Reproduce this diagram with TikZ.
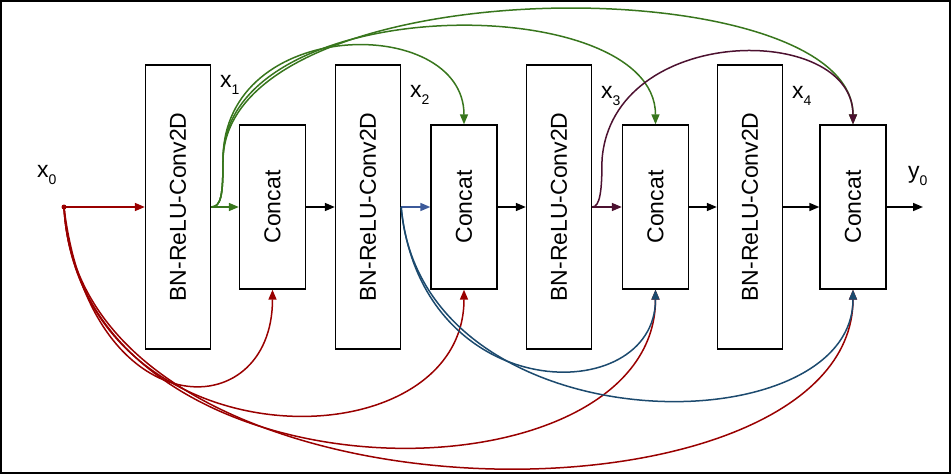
\documentclass[tikz,border=0pt]{standalone}
\usepackage{fontspec}
\setmainfont{Liberation Sans}
\usetikzlibrary{arrows.meta}
\definecolor{cred}{HTML}{990000}
\definecolor{cgreen}{HTML}{38761D}
\definecolor{cblue}{HTML}{1C4A6E}
\definecolor{cblueL}{HTML}{3C5A9A}
\definecolor{cpurple}{HTML}{4C1130}
\newcommand{\lab}[2]{#1\raisebox{-7pt}{\fontsize{14}{14}\selectfont #2}}
\begin{document}
\begin{tikzpicture}[x=1pt,y=-1pt,
  box/.style={draw, line width=1.3pt, inner sep=0pt, font=\fontsize{23}{27}\selectfont},
  bn/.style={box, minimum width=65pt, minimum height=284pt},
  cc/.style={box, minimum width=66pt, minimum height=164pt},
  conn/.style={line width=1.5pt, -{Triangle[length=10pt,width=8pt]}},
  lbl/.style={anchor=base west, inner sep=0pt, font=\fontsize{23}{27}\selectfont}]
\useasboundingbox (0,0) rectangle (951,474);
\draw[line width=2pt] (1,1) rectangle (950,473);
% blocks
\node[bn] (bn1) at (178,207) {\rotatebox{90}{BN-ReLU-Conv2D}};
\node[cc] (cc1) at (272.5,207) {\rotatebox{90}{Concat}};
\node[bn] (bn2) at (368,207) {\rotatebox{90}{BN-ReLU-Conv2D}};
\node[cc] (cc2) at (464,207) {\rotatebox{90}{Concat}};
\node[bn] (bn3) at (559,207) {\rotatebox{90}{BN-ReLU-Conv2D}};
\node[cc] (cc3) at (655.5,207) {\rotatebox{90}{Concat}};
\node[bn] (bn4) at (750,207) {\rotatebox{90}{BN-ReLU-Conv2D}};
\node[cc] (cc4) at (853,207) {\rotatebox{90}{Concat}};
\node[circle, fill=cred, inner sep=0pt, minimum size=5pt] (x0) at (64,207) {};
\coordinate (out) at (923,207);
\coordinate (gup) at (223,160);
\coordinate (pup) at (602,160);
% labels
\node[lbl] (lx0) at (37,177) {\lab{x}{0}};
\node[lbl] (lx1) at (220,87) {\lab{x}{1}};
\node[lbl] (lx2) at (410,97) {\lab{x}{2}};
\node[lbl] (lx3) at (601,98) {\lab{x}{3}};
\node[lbl] (lx4) at (792,98) {\lab{x}{4}};
\node[lbl] (ly0) at (908,178) {\lab{y}{0}};
% main chain
\draw[conn] (cc1.east) -- (bn2.west);
\draw[conn] (cc2.east) -- (bn3.west);
\draw[conn] (cc3.east) -- (bn4.west);
\draw[conn] (bn4.east) -- (cc4.west);
\draw[conn] (cc4.east) -- (out);
% red
\draw[conn, cred] (x0.center) -- (bn1.west);
\draw[conn, cred] (x0.center) .. controls +(26,221) and +(0,139) .. (cc1.south);
\draw[conn, cred] (x0.center) .. controls +(16,261) and +(0,179) .. (cc2.south);
\draw[conn, cred] (x0.center) .. controls +(16,304) and +(0,222) .. (cc3.south);
\draw[conn, cred] (x0.center) .. controls +(16,332) and +(0,250) .. (cc4.south);
% green
\draw[conn, cgreen] (bn1.east) -- (cc1.west);
\draw[conn, cgreen] (bn1.east) .. controls +(10,0) and +(0,35) .. (gup)
   .. controls +(0,-145) and +(0,-110) .. (cc2.north);
\draw[conn, cgreen] (bn1.east) .. controls +(10,0) and +(0,35) .. (gup)
   .. controls +(0,-171) and +(0,-136) .. (cc3.north);
\draw[conn, cgreen] (bn1.east) .. controls +(10,0) and +(0,35) .. (gup)
   .. controls +(4,-194) and +(0,-159) .. (cc4.north);
% blue
\draw[conn, cblueL] (bn2.east) -- (cc2.west);
\draw[conn, cblue] (bn2.east) .. controls +(20,201) and +(0,119) .. (cc3.south);
\draw[conn, cblue] (bn2.east) .. controls +(20,241) and +(0,159) .. (cc4.south);
% purple
\draw[conn, cpurple] (bn3.east) -- (cc3.west);
\draw[conn, cpurple] (bn3.east) .. controls +(8,0) and +(0,30) .. (pup)
   .. controls +(10,-137) and +(0,-102) .. (cc4.north);
\end{tikzpicture}
\end{document}
